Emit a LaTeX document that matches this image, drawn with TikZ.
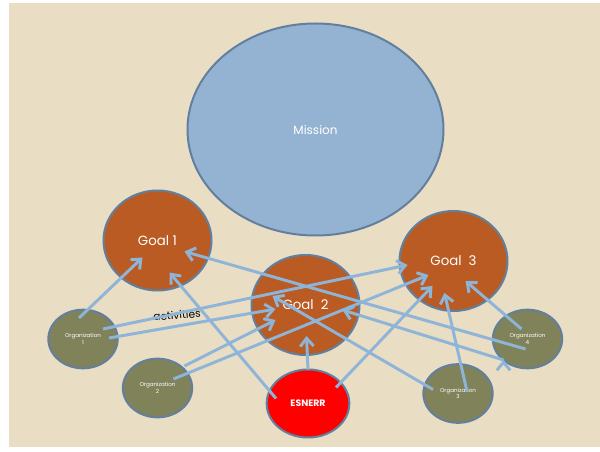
\documentclass[tikz,border=0pt]{standalone}
\usepackage{fontspec}
\setmainfont{Poppins}
\usetikzlibrary{shapes.geometric,arrows.meta,calc}

\definecolor{paper}{RGB}{233,221,196}
\definecolor{rim}{RGB}{98,128,158}
\definecolor{sky}{RGB}{148,179,210}
\definecolor{rust}{RGB}{186,91,35}
\definecolor{moss}{RGB}{128,130,90}
\definecolor{arrowblue}{RGB}{142,180,216}

\begin{document}
\begin{tikzpicture}[
            x=0.75pt, y=-0.75pt,
            blob/.style={ellipse,draw=rim,line width=1.5pt,inner sep=0pt,text=white},
            goal/.style={blob,fill=rust,minimum width=81pt,minimum height=75pt,
                font=\fontsize{10}{12}\selectfont},
            org/.style={blob,fill=moss,minimum width=52pt,minimum height=44pt,
                align=center,font=\fontsize{4.2}{5}\selectfont},
            arr/.style={draw=arrowblue,line width=2.2pt,
                -{Straight Barb[length=6pt,width=10pt]}}]
            \useasboundingbox (0,0) rectangle (600,452);
            \fill[paper] (9,3) rectangle (600,447);

            \node[blob,fill=sky,minimum width=192pt,minimum height=159pt,
                font=\fontsize{9}{11}\selectfont] (mission) at (315.5,129.5) {Mission};
            \node[goal] (goal1) at (157.5,240.5) {Goal 1};
            \node[goal] (goal2) at (305.5,305) {Goal\ \ 2};
            \node[goal] (goal3) at (453.5,261) {Goal\ \ 3};
            \node[org] (org1) at (83,339) {Organization\\1};
            \node[org] (org2) at (157.5,388) {Organization\\2};
            \node[org] (org3) at (458,393.5) {Organization\\3};
            \node[org] (org4) at (527.5,339) {Organization\\4};
            \node[blob,fill=red,minimum width=62pt,minimum height=51pt,
                font=\bfseries\fontsize{7}{8}\selectfont] (esnerr) at (308,403.5) {ESNERR};
            \node[rotate=4,font=\fontsize{8}{10}\selectfont] (activities) at (177,315) {activities};

            \path[arr] ($(org1)+(-4,-21)$) edge ($(goal1)+(-15,17)$)
            ($(org1)+(20,-10)$) edge ($(goal3)+(-46,4)$)
            ($(org1)+(26,-1)$) edge ($(goal2)+(-30,4)$)
            ($(org2)+(27,-22)$) edge ($(goal2)+(-30,15)$)
            ($(org2)+(16,-9)$) edge ($(goal3)+(-25,14)$)
            ($(esnerr)+(-32,-5)$) edge ($(goal1)+(12,32)$)
            ($(esnerr)+(0,-34)$) edge ($(goal2)+(1,31)$)
            ($(esnerr)+(28,-16)$) edge ($(goal3)+(-21,25)$)
            ($(org3)+(-25,-4)$) edge ($(goal2)+(-33,-9)$)
            ($(org3)+(9,-2)$) edge ($(goal3)+(-9,32)$)
            ($(org4)+(-6,-10)$) edge ($(goal3)+(12,20)$)
            ($(org4)+(-2,10)$) edge ($(goal1)+(27,11)$)
            ($(org4)+(-24,21)$) edge ($(goal2)+(37,5)$);
            \end{tikzpicture}
\end{document}
